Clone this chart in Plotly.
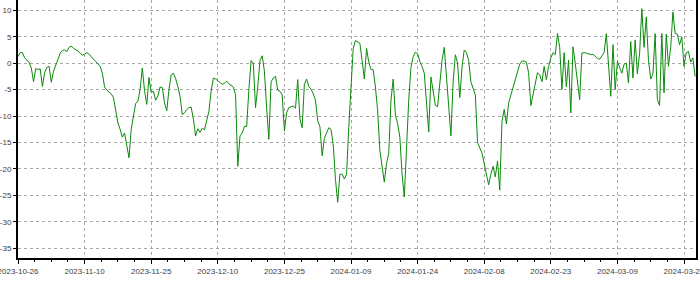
import pandas as pd
import plotly.graph_objects as go

# ---- data (12-hour samples) ----
start_time = "2023-10-26 00:00"
sample_step = "12h"
values = [
    1.25, 2.0, 2.0, 1.0, 0.6, 0.1, -0.9, -3.5, -1.0, -1.2,
    -1.1, -4.4, -1.8, -0.8, -0.6, -3.6, -1.5, -0.5, 0.7, 1.9,
    2.4, 2.5, 2.2, 3.0, 3.25, 2.8, 2.6, 2.3, 1.9, 1.5,
    1.7, 2.0, 1.7, 1.3, 0.75, 0.3, -0.1, -0.6, -1.9, -4.5,
    -5.1, -5.4, -5.8, -6.5, -9.0, -11.3, -12.5, -14.0, -13.2, -15.6,
    -17.9, -12.5, -9.8, -7.6, -7.2, -5.0, -0.9, -5.2, -7.8, -2.7,
    -5.5, -5.3, -7.0, -6.2, -4.5, -4.6, -7.5, -9.0, -5.0, -2.2,
    -1.9, -2.9, -4.4, -6.3, -9.7, -9.4, -8.75, -8.4, -8.3, -10.6,
    -13.75, -12.4, -13.1, -12.3, -12.6, -10.6, -9.1, -5.3, -2.8, -3.0,
    -3.3, -3.75, -4.0, -3.8, -3.4, -3.9, -4.2, -4.5, -6.0, -19.5,
    -13.75, -13.2, -11.9, -12.0, -5.0, 0.5, 0.0, -8.4, -4.4, 0.5,
    1.4, -1.5, -8.5, -14.4, -3.5, -2.8, -2.5, -5.1, -5.3, -6.0,
    -12.8, -9.4, -8.4, -8.3, -8.1, -8.5, -3.1, -10.6, -12.2, -4.0,
    -3.0, -4.4, -4.9, -5.8, -7.0, -10.9, -12.0, -17.5, -14.2, -13.2,
    -12.2, -12.5, -15.5, -22.0, -26.3, -21.0, -21.0, -21.9, -21.0, -12.0,
    -3.5, 2.8, 4.3, 4.1, 3.75, 0.5, -3.0, 2.8, 0.2, -1.2,
    -1.25, -4.5, -9.0, -16.5, -19.4, -22.5, -19.0, -17.0, -7.0, -3.0,
    -9.8, -11.4, -14.0, -21.0, -25.3, -14.5, -7.0, -0.8, 1.2, 2.1,
    1.8, 0.3, -0.6, -1.9, -7.5, -13.0, -2.6, -5.0, -8.0, -8.2,
    -4.0, 0.5, 3.0, -2.5, -8.5, -13.75, -3.5, 1.6, 0.0, -6.5,
    -0.8, 2.5, 2.0, 0.5, -3.5, -5.0, -6.0, -15.0, -16.0, -17.0,
    -19.0, -21.0, -23.0, -21.0, -19.5, -21.5, -18.5, -24.0, -11.0, -8.75,
    -11.5, -7.5, -6.0, -4.5, -3.0, -1.5, -0.2, 0.4, 0.4, 0.2,
    -1.8, -8.0, -5.8, -3.5, -1.8, -2.2, -3.5, -0.6, -3.1, -0.6,
    1.0, 2.0, 1.6, 5.6, 3.0, -5.0, 2.0, -4.5, 0.6, -9.4,
    3.1, 0.0, -3.75, -6.9, 1.9, 2.0, 1.9, 1.8, 1.6, 1.7,
    1.2, 0.9, 0.75, 1.5, 2.0, 5.6, -0.6, -6.25, 3.5, -5.0,
    0.3, -0.8, -1.9, -0.2, 0.0, -3.75, 4.1, -2.8, 4.4, -2.0,
    1.9, 10.3, 3.0, 8.75, 0.5, -3.0, -2.0, 5.6, -6.9, -8.0,
    5.6, -5.6, 5.5, -0.6, 3.0, 9.7, 5.6, 5.5, 3.5, 5.0,
    -0.6, 2.0, 2.2, 0.2, 1.0, -2.5,
]
x_range = ["2023-10-26 00:00", "2024-03-26 16:48"]
y_range = [-36.84, 11.95]
y_ticks = [10, 5, 0, -5, -10, -15, -20, -25, -30, -35]
y_tick_labels = ["10", "5", "0", "-5", "-10", "-15", "-20", "-25", "-30", "-35"]
x_tick_start = "2023-10-26"
x_tick_end = "2024-03-26"
major_step = "15D"
minor_step = "90h"   # 3.75 days: three small ticks between labelled ones

times = pd.date_range(start_time, periods=len(values), freq=sample_step)
major_ticks = pd.date_range(x_tick_start, x_tick_end, freq=major_step)
minor_ticks = pd.date_range(x_tick_start, x_tick_end, freq=minor_step)

fig = go.Figure()
fig.add_trace(go.Scatter(
    x=times, y=values, mode="lines",
    line=dict(color="#0a8a0a", width=1),
    showlegend=False,
))

axis_font = dict(family="Liberation Sans, Arial, sans-serif", size=8, color="#404040")

fig.update_layout(
    width=700, height=282,
    margin=dict(l=18, r=4, t=0, b=24, pad=0),
    paper_bgcolor="white", plot_bgcolor="white",
    showlegend=False,
)
fig.update_xaxes(
    type="date", range=x_range,
    tickmode="array", tickvals=major_ticks,
    ticktext=[d.strftime("%Y-%m-%d") for d in major_ticks],
    ticks="outside", ticklen=4, tickcolor="black", tickwidth=1,
    tickfont=axis_font, ticklabeloverflow="allow",
    showline=True, linecolor="black", linewidth=2, mirror=False,
    showgrid=True, gridcolor="#a8a8a8", gridwidth=1, griddash="3px,3px",
    zeroline=False,
    minor=dict(tickmode="array", tickvals=minor_ticks, ticks="outside",
               ticklen=2, tickcolor="black", showgrid=False),
    automargin=False,
)
fig.update_yaxes(
    range=y_range, tickmode="array", tickvals=y_ticks, ticktext=y_tick_labels,
    ticks="outside", ticklen=3, tickcolor="black",
    tickfont=axis_font,
    showline=True, linecolor="black", linewidth=2, mirror=True,
    showgrid=True, gridcolor="#a8a8a8", gridwidth=1, griddash="3px,3px",
    zeroline=False,
    automargin=False,
)

fig.write_html("out.html")
